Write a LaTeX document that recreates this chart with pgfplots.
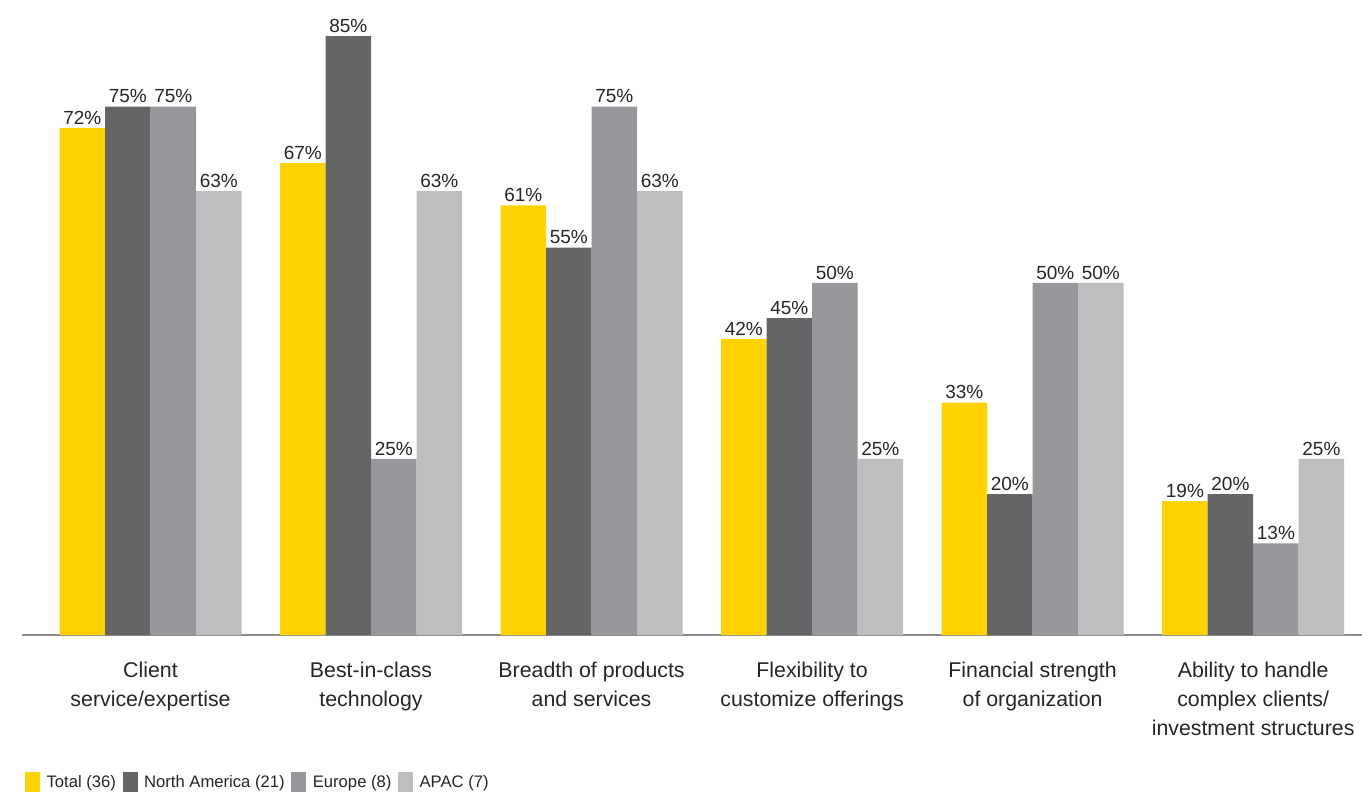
\documentclass[border=0pt]{standalone}
\usepackage{pgfplots}
\pgfplotsset{compat=1.18}
\usepackage{fontspec}
\setmainfont{Liberation Sans}
\definecolor{eyyellow}{HTML}{FFD200}
\definecolor{eydark}{HTML}{646567}
\definecolor{eymid}{HTML}{96979B}
\definecolor{eylight}{HTML}{BDBEC0}
\definecolor{axisgray}{HTML}{8C8C8C}
\begin{document}
\begin{tikzpicture}
\useasboundingbox (0,0) rectangle (1021.5pt,597.75pt);
\begin{axis}[
  at={(16.5pt,121.5pt)}, anchor=south west,
  scale only axis,
  width=1005pt, height=475.5pt,
  xmin=-0.5828, xmax=5.494,
  ymin=0, ymax=90,
  ybar=0pt, bar width=34.125pt,
  axis x line=bottom, axis y line=none,
  x axis line style={-, draw=axisgray, line width=1pt},
  major tick length=0pt,
  /pgf/number format/assume math mode=true,
  xtick={0,1,2,3,4,5},
  xticklabels={{Client\\service/expertise},{Best-in-class\\technology},{Breadth of products\\and services},{Flexibility to\\customize offerings},{Financial strength\\of organization},{Ability to handle\\complex clients/\\investment structures}},
  xticklabel style={align=center, font=\fontsize{16}{21.75}\selectfont, text=black!85, anchor=north, inner sep=0pt, yshift=-20pt},
  nodes near coords={\pgfmathprintnumber{\pgfplotspointmeta}\%},
  every node near coord/.append style={font=\fontsize{14.25}{16}\selectfont, text=black!85, inner sep=2.5pt},
  legend image code/.code={\fill[#1] (0pt,-7.5pt) rectangle (11.25pt,7.5pt); \path (14pt,0pt);},
  legend columns=-1,
  legend style={draw=none, fill=none, inner sep=0pt, at={(0.0022,-0.232)}, anchor=west,
    font=\fontsize{12.5}{15}\selectfont, text=black!85,
    /tikz/every even column/.append style={column sep=3pt}},
  legend cell align=left,
]
\addplot[fill=eyyellow, draw=none] coordinates {(0,72) (1,67) (2,61) (3,42) (4,33) (5,19)};
\addplot[fill=eydark, draw=none] coordinates {(0,75) (1,85) (2,55) (3,45) (4,20) (5,20)};
\addplot[fill=eymid, draw=none] coordinates {(0,75) (1,25) (2,75) (3,50) (4,50) (5,13)};
\addplot[fill=eylight, draw=none] coordinates {(0,63) (1,63) (2,63) (3,25) (4,50) (5,25)};
\legend{Total (36), North America (21), Europe (8), APAC (7)}
\end{axis}
\end{tikzpicture}
\end{document}
